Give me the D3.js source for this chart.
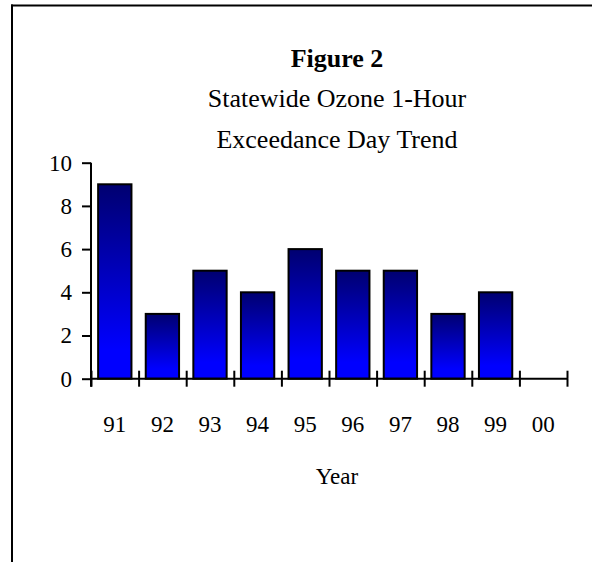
<!DOCTYPE html>
<html>
<head>
<meta charset="utf-8">
<script src="https://cdn.jsdelivr.net/npm/d3@7"></script>
<style>
  html, body { margin: 0; padding: 0; background: #fff; }
  svg { display: block; }
  text { font-family: "Liberation Serif", "Times New Roman", serif; fill: #000; }
</style>
</head>
<body>
<svg id="chart" width="592" height="562"></svg>
<script>
// ---- data ----
const years = ["91", "92", "93", "94", "95", "96", "97", "98", "99", "00"];
const exceedanceDays = [9, 3, 5, 4, 6, 5, 5, 3, 4, 0];
const yTicks = [0, 2, 4, 6, 8, 10];
const titleLines = ["Statewide Ozone 1-Hour", "Exceedance Day Trend"];
const figureLabel = "Figure 2";
const xTitle = "Year";

const svg = d3.select("#chart");

// frame (top + left)
svg.append("line").attr("x1", 11).attr("x2", 592).attr("y1", 5.5).attr("y2", 5.5)
  .attr("stroke", "#000").attr("stroke-width", 2);
svg.append("line").attr("x1", 12).attr("x2", 12).attr("y1", 4.5).attr("y2", 562)
  .attr("stroke", "#000").attr("stroke-width", 2);

// gradient
const defs = svg.append("defs");
const grad = defs.append("linearGradient").attr("id", "barGrad")
  .attr("x1", 0).attr("y1", 0).attr("x2", 0).attr("y2", 1);
grad.append("stop").attr("offset", "0%").attr("stop-color", "#000070");
grad.append("stop").attr("offset", "85%").attr("stop-color", "#0000FF");
grad.append("stop").attr("offset", "100%").attr("stop-color", "#0000FF");

// scales
const x = d3.scaleBand().domain(years).range([91, 567]).paddingInner(0.3).paddingOuter(0.15);
const xb = d3.scaleLinear().domain([0, years.length]).range([91, 567]);
const y = d3.scaleLinear().domain([0, 10]).range([378.7, 162.7]);

// titles
const cx = 337;
svg.append("text").attr("x", cx).attr("y", 67).attr("text-anchor", "middle")
  .attr("font-size", 26).attr("font-weight", "bold").text(figureLabel);
svg.selectAll("text.title").data(titleLines).enter().append("text")
  .attr("class", "title").attr("x", cx).attr("y", (d, i) => 107 + i * 41)
  .attr("text-anchor", "middle").attr("font-size", 26).text(d => d);

// bars
const data = years.map((yr, i) => ({ yr, v: exceedanceDays[i] }));
svg.selectAll("rect.bar").data(data.filter(d => d.v > 0)).enter().append("rect")
  .attr("class", "bar")
  .attr("x", d => x(d.yr))
  .attr("y", d => y(d.v))
  .attr("width", x.bandwidth())
  .attr("height", d => y(0) - y(d.v))
  .attr("fill", "url(#barGrad)")
  .attr("stroke", "#000").attr("stroke-width", 2);

// y axis
const yAxis = svg.append("g").attr("transform", "translate(91,0)")
  .call(d3.axisLeft(y).tickValues(yTicks).tickSize(9).tickPadding(10).tickFormat(d3.format("d")));
yAxis.select(".domain").remove();
yAxis.selectAll(".tick line").attr("stroke", "#000").attr("stroke-width", 2);
yAxis.selectAll(".tick text").attr("font-size", 23)
  .attr("font-family", "Liberation Serif, Times New Roman, serif");
svg.append("line").attr("x1", 91).attr("x2", 91).attr("y1", y(10)).attr("y2", y(0) + 8)
  .attr("stroke", "#000").attr("stroke-width", 2);

// x axis: boundary ticks crossing the axis
const bTicks = d3.range(0, years.length + 1);
const xDown = svg.append("g").attr("transform", `translate(0,${y(0)})`)
  .call(d3.axisBottom(xb).tickValues(bTicks).tickSize(8).tickFormat(""));
const xUp = svg.append("g").attr("transform", `translate(0,${y(0)})`)
  .call(d3.axisTop(xb).tickValues(bTicks).tickSize(8).tickFormat(""));
[xDown, xUp].forEach(g => {
  g.select(".domain").remove();
  g.selectAll(".tick line").attr("stroke", "#000").attr("stroke-width", 2);
});
svg.append("line").attr("x1", 90).attr("x2", 568).attr("y1", y(0)).attr("y2", y(0))
  .attr("stroke", "#000").attr("stroke-width", 2);

// x labels
const xLab = svg.append("g").attr("transform", "translate(0,432)")
  .call(d3.axisBottom(x).tickSize(0).tickPadding(0));
xLab.select(".domain").remove();
xLab.selectAll(".tick text").attr("font-size", 23).attr("dy", 0)
  .attr("font-family", "Liberation Serif, Times New Roman, serif");

// x title
svg.append("text").attr("x", 337).attr("y", 484).attr("text-anchor", "middle")
  .attr("font-size", 23).text(xTitle);
</script>
</body>
</html>
